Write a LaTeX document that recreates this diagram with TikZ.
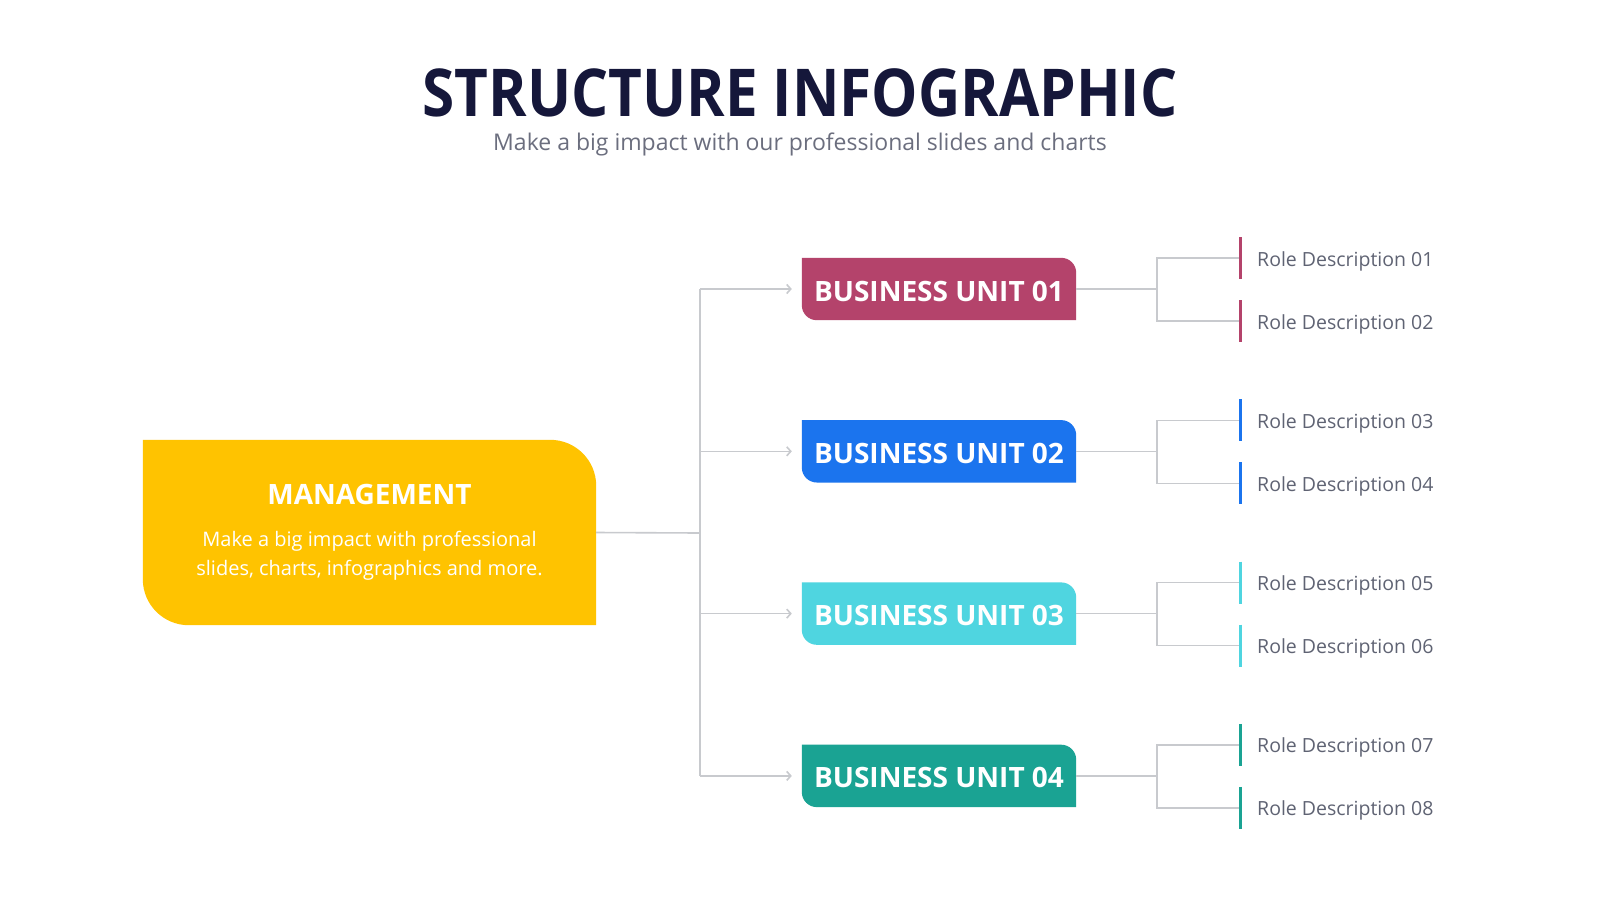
\documentclass[tikz,border=0pt]{standalone}
\usepackage{fontspec}
\setmainfont{Open Sans}
\newfontfamily\headfont{Open Sans}[FakeStretch=0.885]
\usetikzlibrary{arrows.meta, positioning, backgrounds}
\definecolor{titleblue}{HTML}{15173A}
\definecolor{subgray}{HTML}{6B6E7E}
\definecolor{rolegray}{HTML}{5F6373}
\definecolor{linkgray}{HTML}{C8CACE}
\definecolor{mgmtyellow}{HTML}{FFC300}
\definecolor{unitA}{HTML}{B4436B}
\definecolor{unitB}{HTML}{1B74EE}
\definecolor{unitC}{HTML}{4FD5E0}
\definecolor{unitD}{HTML}{1AA393}
\tikzset{link/.style={draw=linkgray, line width=1.6pt}}
\tikzset{feed/.style={link, -{Straight Barb[length=4pt, width=9pt]}}}
\tikzset{tick/.style={line width=3pt, draw=#1}}
\tikzset{unitbox/.style={minimum width=274pt, minimum height=62pt, inner sep=0pt, text height=24pt, text depth=0pt, text=white, font=\fontsize{28}{28}\selectfont\bfseries}}
\tikzset{role/.style={inner sep=0pt, yshift=-3pt, text=rolegray, font=\fontsize{19.5}{19.5}\selectfont}}
\newcommand{\twocorners}[3]{\fill[#1] (#2.north west) -- ([xshift=-#3]#2.north east) arc[start angle=90, end angle=0, radius=#3] -- (#2.south east) -- ([xshift=#3]#2.south west) arc[start angle=270, end angle=180, radius=#3] -- cycle;}

\begin{document}
\begin{tikzpicture}[x=1pt, y=-1pt]
    \begin{scope}[on background layer]
        \fill[white] (0,0) rectangle (1600,900);
    \end{scope}
    \useasboundingbox (0,0) rectangle (1600,900);
    \node[anchor=base, text=titleblue, font=\fontsize{66}{66}\headfont\bfseries] (title) at (800,116) {STRUCTURE INFOGRAPHIC};
    \node[anchor=base, text=subgray, font=\fontsize{23}{23}\selectfont] (subtitle) at (800,150) {Make a big impact with our professional slides and charts};
    \node[minimum width=453pt, minimum height=185pt, align=center, text=white, font=\fontsize{20}{29.5}\selectfont] (mgmt) at (369.5,532.5) {{\fontsize{28}{30}\selectfont\bfseries MANAGEMENT}\\[12pt] Make a big impact with professional\\ slides, charts, infographics and more.};
    \begin{scope}[on background layer]
        \twocorners{mgmtyellow}{mgmt}{46pt}
    \end{scope}
    \coordinate (trunk) at (700,533);
    \foreach \u/\c in {1/unitA, 2/unitB, 3/unitC, 4/unitD} {
        \pgfmathsetmacro{\y}{289+162.3*(\u-1)}
        \pgfmathtruncatemacro{\ra}{2*\u-1}
        \pgfmathtruncatemacro{\rb}{2*\u}
        \node[unitbox] (unit\u) at (939,\y) {BUSINESS UNIT 0\u};
        \begin{scope}[on background layer]
            \twocorners{\c}{unit\u}{15pt}
        \end{scope}
        \draw[feed] (trunk |- unit\u.west) -- ([xshift=-10pt]unit\u.west);
        \coordinate (tick\ra) at (1240,\y-31);
        \coordinate (tick\rb) at (1240,\y+32);
        \node[role, right=17pt of tick\ra] (role\ra) {Role Description 0\ra};
        \node[role, right=17pt of tick\rb] (role\rb) {Role Description 0\rb};
        \draw[link] (unit\u.east) -- ++(81,0) coordinate (fork\u);
        \draw[link] (tick\ra) -| (fork\u) |- (tick\rb);
        \draw[tick=\c] (tick\ra) ++(0,-21) -- ++(0,42);
        \draw[tick=\c] (tick\rb) ++(0,-21) -- ++(0,42);
    }
    \draw[link] (mgmt.east) -- (trunk);
    \draw[link] (trunk |- unit1.west) -- (trunk |- unit4.west);
\end{tikzpicture}
\end{document}
